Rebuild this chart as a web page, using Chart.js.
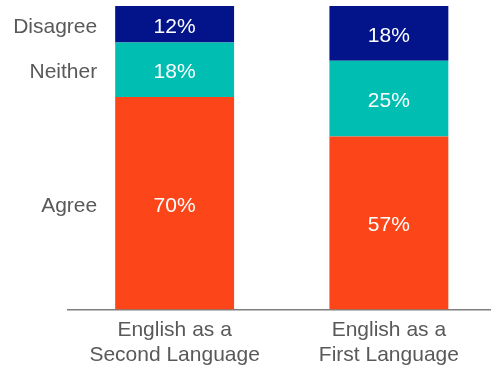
<!DOCTYPE html>
<html>
<head>
<meta charset="utf-8">
<script src="https://cdn.jsdelivr.net/npm/chart.js@4"></script>
<style>
html, body { margin: 0; padding: 0; overflow: hidden; background: #fff; }
#wrap { width: 497px; height: 367px; }
</style>
</head>
<body>
<div id="wrap"><canvas id="myCanvas" width="497" height="367"></canvas></div>
<script>
const groups = [['English as a', 'Second Language'], ['English as a', 'First Language']];
const responses = ['Agree', 'Neither', 'Disagree'];
const agree = [70, 57];
const neither = [18, 25];
const disagree = [12, 18];
const colors = ['#FC4619', '#00BEB2', '#03148A'];

const FONT = '21px "Liberation Sans", Arial, sans-serif';

// percentages inside each segment, response names beside the first bar
const barLabels = {
    id: 'barLabels',
    afterDatasetsDraw(chart) {
        const ctx = chart.ctx;
        ctx.save();
        ctx.font = FONT;
        ctx.textBaseline = 'middle';
        chart.data.datasets.forEach((ds, i) => {
            const meta = chart.getDatasetMeta(i);
            meta.data.forEach((bar, j) => {
                const mid = (bar.y + bar.base) / 2 + 2.5;
                ctx.fillStyle = '#fff';
                ctx.textAlign = 'center';
                ctx.fillText(ds.data[j] + '%', bar.x, mid);
                if (j === 0) {
                    ctx.fillStyle = '#595959';
                    ctx.textAlign = 'right';
                    ctx.fillText(ds.label, bar.x - bar.width / 2 - 18, mid);
                }
            });
        });
        ctx.restore();
    }
};

const series = [agree, neither, disagree];

const myCanvas = document.getElementById('myCanvas').getContext('2d');
window.myChart = new Chart(myCanvas, {
    type: 'bar',
    data: {
        labels: groups,
        datasets: responses.map((name, i) => ({
            label: name,
            data: series[i],
            backgroundColor: colors[i],
            borderWidth: 0,
            categoryPercentage: 1,
            barPercentage: 0.555
        }))
    },
    options: {
        responsive: false,
        animation: false,
        devicePixelRatio: 1,
        layout: { padding: { left: 67.5, right: 1, top: 6, bottom: -8.5 } },
        plugins: {
            legend: { display: false },
            tooltip: { enabled: false }
        },
        scales: {
            x: {
                stacked: true,
                grid: { display: false, drawTicks: false },
                border: { color: '#7f7f7f', width: 1.5 },
                ticks: {
                    color: '#595959',
                    padding: 8,
                    font: { family: '"Liberation Sans", Arial, sans-serif', size: 21, lineHeight: 1.19 },
                    maxRotation: 0
                }
            },
            y: {
                stacked: true,
                display: false,
                min: 0,
                max: 100
            }
        }
    },
    plugins: [barLabels]
});
</script>
</body>
</html>
